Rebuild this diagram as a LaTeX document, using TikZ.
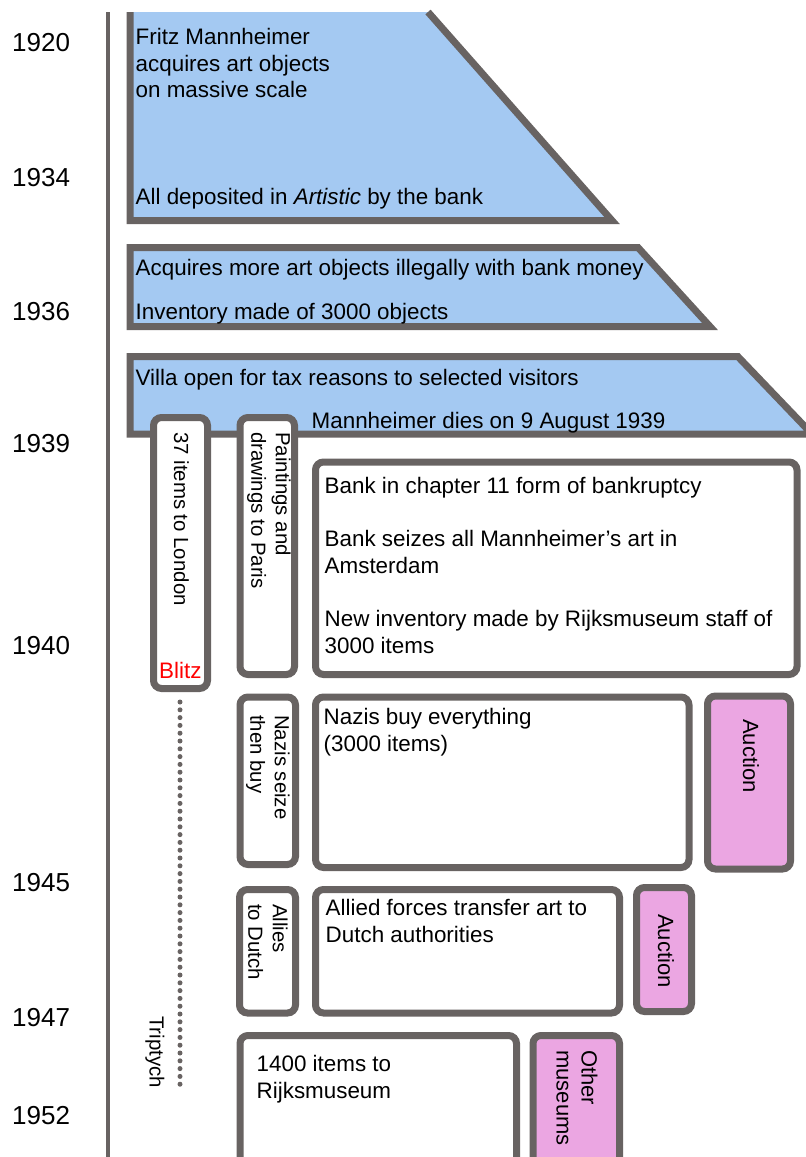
\documentclass[tikz,border=0pt]{standalone}
\usepackage{fontspec}
\setmainfont{Liberation Sans}
\definecolor{edge}{RGB}{104,99,98}
\definecolor{skyfill}{RGB}{164,201,242}
\definecolor{pinkfill}{RGB}{235,166,226}
\begin{document}
\begin{tikzpicture}[x=1pt,y=-1pt,
  txt/.style={font=\fontsize{22.4}{26.5}\selectfont, inner sep=0pt, anchor=base west},
  yr/.style={font=\fontsize{26}{30}\selectfont, inner sep=0pt, anchor=base west},
  vtxt/.style={font=\fontsize{20.4}{24.5}\selectfont, inner sep=0pt, rotate=-90, anchor=west, align=left},
  vbig/.style={font=\fontsize{22}{25}\selectfont, inner sep=0pt, rotate=-90, anchor=west, align=left},
  band/.style={draw=edge, line width=7pt},
  box/.style={draw=edge, line width=7pt, rounded corners=8pt, fill=white},
  pinkbox/.style={box, fill=pinkfill},
  axisline/.style={draw=edge, line width=4.7pt},
  dotline/.style={draw=edge, line width=5pt, line cap=round, dash pattern=on 0pt off 7.8pt}
]
\useasboundingbox (0,0) rectangle (806,1157);
\begin{scope}
\clip (0,0) rectangle (806,1157);
% time axis
\coordinate (atop) at (108,12);
\coordinate (abot) at (108,1157);
\draw[axisline] (atop) -- (abot);
% bands
\fill[skyfill] (130,12) -- (130,220.5) -- (612,220.5) -- (428,12) -- cycle;
\draw[band] (130,12) -- (130,220.5) -- (612,220.5) -- (428,12);
\filldraw[band, fill=skyfill] (130,247.5) -- (638,247.5) -- (710,326.5) -- (130,326.5) -- cycle;
\filldraw[band, fill=skyfill] (130,356.7) -- (738,356.7) -- (812,434) -- (130,434) -- cycle;
% boxes
\draw[box] (153.5,417.5) rectangle (207.5,688.5);
\draw[box] (240,417.5) rectangle (294.5,674.5);
\draw[box] (315.5,462) rectangle (797,674.5);
\draw[box] (240,697) rectangle (295.5,864.5);
\draw[box] (315.5,697) rectangle (689,867.5);
\draw[pinkbox] (707.5,696) rectangle (790.5,869);
\draw[box] (239.5,889.5) rectangle (295.5,1013);
\draw[box] (315.5,889.5) rectangle (619.5,1013);
\draw[pinkbox] (636.5,887.5) rectangle (691.5,1011.5);
\draw[box] (240,1035.5) rectangle (516.5,1180);
\draw[pinkbox] (533,1035.5) rectangle (619.5,1180);
% dotted line
\coordinate (dtop) at (180,702);
\coordinate (dbot) at (180,1088);
\draw[dotline] (dtop) -- (dbot);
\end{scope}
% years
\node[yr] (y1920) at (12,51) {1920};
\node[yr] (y1934) at (12,186) {1934};
\node[yr] (y1936) at (12,320) {1936};
\node[yr] (y1939) at (12,452) {1939};
\node[yr] (y1940) at (12,654) {1940};
\node[yr] (y1945) at (12,891) {1945};
\node[yr] (y1947) at (12,1026) {1947};
\node[yr] (y1952) at (12,1124) {1952};
% band texts
\node[txt] (t1a) at (135.5,44.5) {Fritz Mannheimer};
\node[txt] (t1b) at (135.5,71) {acquires art objects};
\node[txt] (t1c) at (135.5,97.5) {on massive scale};
\node[txt] (t1d) at (135.5,204) {All deposited in \textit{Artistic} by the bank};
\node[txt] (t2a) at (135.5,275) {Acquires more art objects illegally with bank money};
\node[txt] (t2b) at (135.5,319) {Inventory made of 3000 objects};
\node[txt] (t3a) at (135.5,385.5) {Villa open for tax reasons to selected visitors};
\node[txt] (t3b) at (311.5,428.5) {Mannheimer dies on 9 August 1939};
% box texts
\node[txt] (b1) at (324.5,493.5) {Bank in chapter 11 form of bankruptcy};
\node[txt] (b2) at (324.5,546.5) {Bank seizes all Mannheimer’s art in};
\node[txt] (b3) at (324.5,573) {Amsterdam};
\node[txt] (b4) at (324.5,626.5) {New inventory made by Rijksmuseum staff of};
\node[txt] (b5) at (324.5,653) {3000 items};
\node[txt] (n1) at (323.5,724.5) {Nazis buy everything};
\node[txt] (n2) at (323.5,751) {(3000 items)};
\node[txt] (a1) at (325.5,915.5) {Allied forces transfer art to};
\node[txt] (a2) at (325.5,942) {Dutch authorities};
\node[txt] (r1) at (256.5,1071.5) {1400 items to};
\node[txt] (r2) at (256.5,1098) {Rijksmuseum};
% vertical texts
\node[vtxt] (london) at (181.5,432) {37 items to London};
\node[txt, text=red] (blitz) at (159,678) {Blitz};
\node[vtxt] (paris) at (269,432) {Paintings and\\drawings to Paris};
\node[vtxt] (seize) at (268,715) {Nazis seize\\then buy};
\node[vtxt] (allies) at (268,904) {Allies\\to Dutch};
\node[vbig] (auc1) at (751,719) {Auction};
\node[vbig] (auc2) at (666,914) {Auction};
\node[vbig] (other) at (577,1050) {Other\\museums};
\node[vtxt] (trip) at (155,1016) {Triptych};
\end{tikzpicture}
\end{document}
